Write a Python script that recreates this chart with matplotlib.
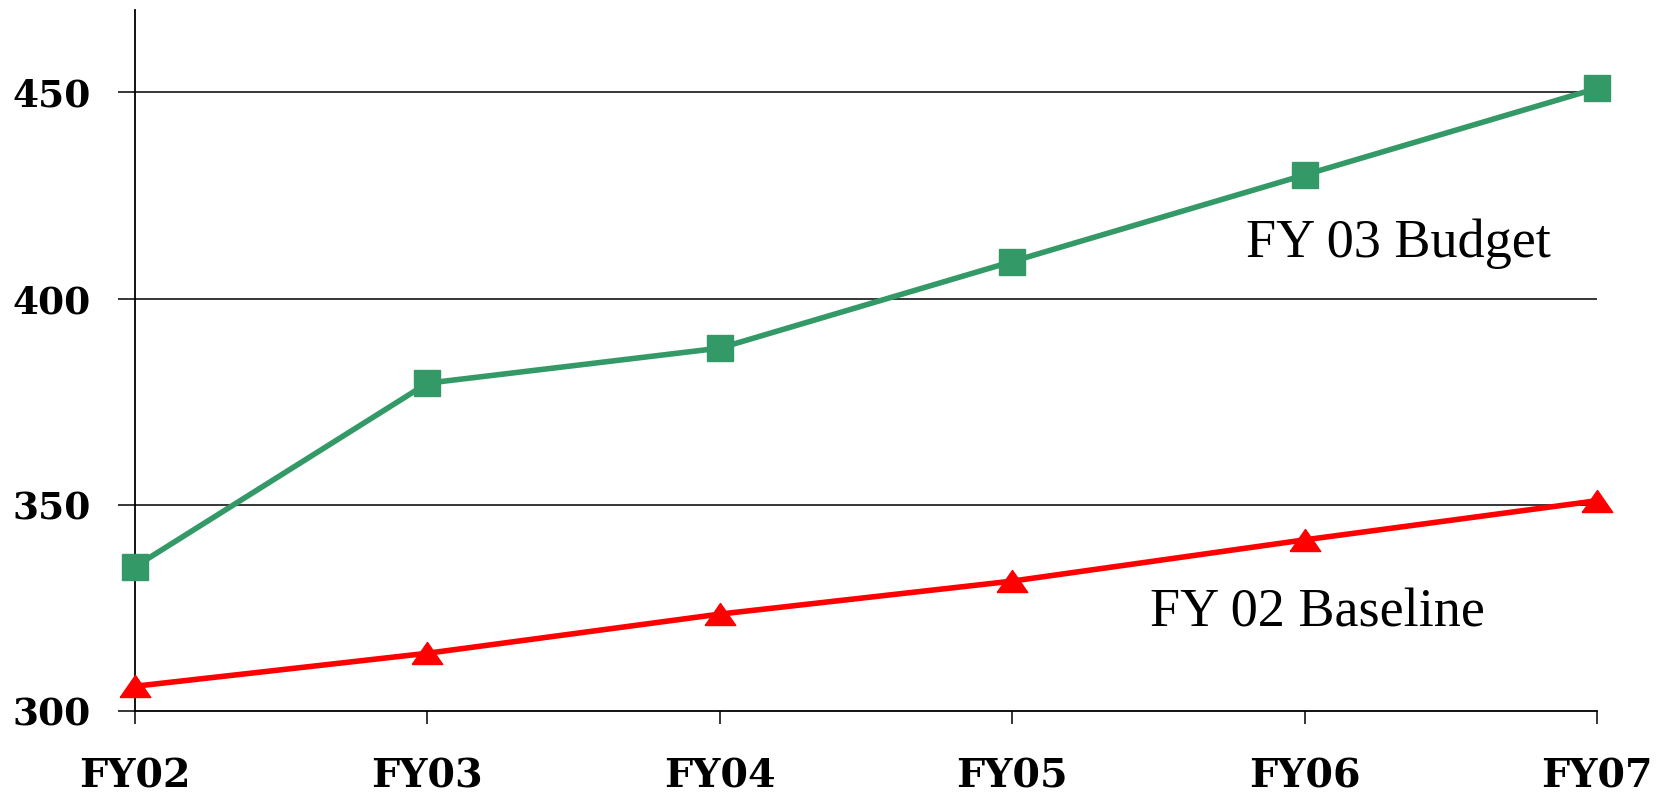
import matplotlib
matplotlib.use("Agg")
import matplotlib.pyplot as plt

years = ["FY02", "FY03", "FY04", "FY05", "FY06", "FY07"]
budget_fy03 = [335, 379.5, 388, 409, 430, 451]
baseline_fy02 = [306, 314, 323.5, 331.5, 341.5, 351]
yticks = [300, 350, 400, 450]

plt.rcParams["font.family"] = ["Liberation Serif", "DejaVu Serif"]

fig = plt.figure(figsize=(16.69, 7.93), dpi=100)
ax = fig.add_axes([135 / 1669, 1 - 711 / 793, (1597 - 135) / 1669, (711 - 10) / 793])

x = list(range(len(years)))
tri = [(-1, -0.72), (1, -0.72), (0, 0.72), (-1, -0.72)]

ax.plot(x, budget_fy03, color="#339966", lw=4.0, marker="s", markersize=19,
        clip_on=False, zorder=3)
ax.plot(x, baseline_fy02, color="#ff0000", lw=4.0, marker=tri, markersize=22,
        clip_on=False, zorder=3)

ax.text(3.8, 410, "FY 03 Budget", fontsize=39, ha="left", va="baseline")
ax.text(3.47, 320.5, "FY 02 Baseline", fontsize=39, ha="left", va="baseline")

ax.set_xlim(0, 5)
ax.set_ylim(300, 470)
ax.set_xticks(x)
ax.set_xticklabels(years, fontsize=28.5, fontweight="bold", family="DejaVu Serif")
ax.set_yticks(yticks)
ax.set_yticklabels([str(v) for v in yticks], fontsize=27, fontweight="bold",
                   family="DejaVu Serif")
ax.tick_params(axis="y", direction="out", length=12, width=1.1, pad=20)
ax.tick_params(axis="x", direction="out", length=9.5, width=1.1, pad=24)

for v in yticks[1:]:
    ax.axhline(v, color="black", lw=1.1, zorder=1)

for side in ["top", "right"]:
    ax.spines[side].set_visible(False)
for side in ["left", "bottom"]:
    ax.spines[side].set_linewidth(1.3)

fig.savefig("out.png", dpi=100)
